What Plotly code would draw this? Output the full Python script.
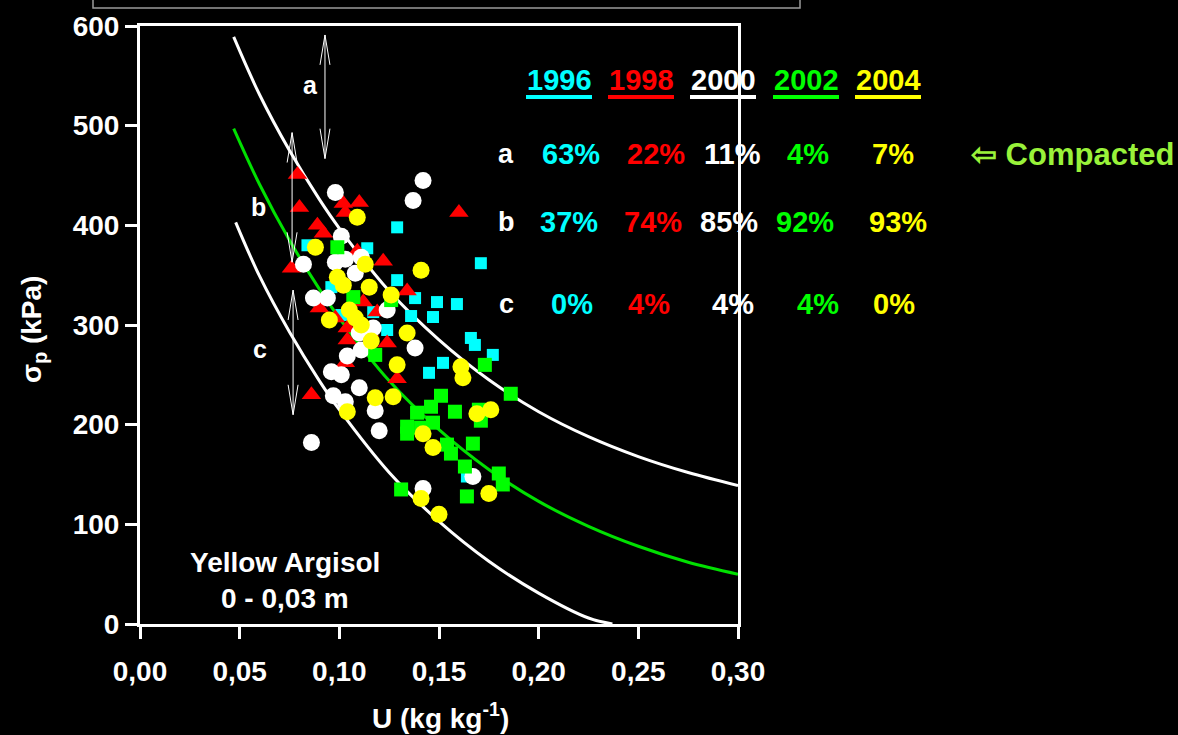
import plotly.graph_objects as go

# ---- observations: water content U (kg/kg) and preconsolidation pressure (kPa)
U_1996 = [0.084, 0.096, 0.114, 0.129, 0.129, 0.138, 0.149, 0.159, 0.136, 0.147,
          0.166, 0.168, 0.177, 0.152, 0.145, 0.171, 0.124, 0.117, 0.101, 0.164]
S_1996 = [380, 338, 377, 398, 345, 327, 323, 321, 309, 308,
          287, 280, 270, 262, 252, 362, 295, 313, 310, 148]

U_1998 = [0.079, 0.080, 0.102, 0.110, 0.103, 0.089, 0.092, 0.076, 0.122, 0.134,
          0.160, 0.109, 0.112, 0.119, 0.090, 0.104, 0.104, 0.124, 0.103, 0.129,
          0.086, 0.098, 0.115]
S_1998 = [451, 418, 422, 423, 413, 400, 392, 357, 364, 334,
          413, 374, 323, 313, 317, 297, 285, 282, 262, 246,
          230, 307, 293]

U_2000 = [0.142, 0.137, 0.098, 0.101, 0.082, 0.098, 0.103, 0.111, 0.108, 0.087,
          0.094, 0.124, 0.117, 0.110, 0.104, 0.111, 0.138, 0.096, 0.101, 0.110,
          0.097, 0.103, 0.118, 0.120, 0.086, 0.142, 0.167]
S_2000 = [445, 425, 433, 389, 361, 363, 366, 368, 352, 327,
          327, 315, 297, 292, 269, 275, 277, 253, 250, 237,
          229, 223, 214, 194, 182, 136, 148]

U_2002 = [0.099, 0.107, 0.126, 0.118, 0.173, 0.186, 0.151, 0.146, 0.158, 0.139,
          0.170, 0.171, 0.147, 0.134, 0.134, 0.154, 0.156, 0.167, 0.163, 0.180,
          0.182, 0.164, 0.131, 0.141]
S_2002 = [378, 328, 325, 270, 260, 231, 229, 218, 213, 212,
          215, 204, 202, 198, 191, 180, 171, 181, 158, 151,
          140, 128, 135, 197]

U_2004 = [0.109, 0.088, 0.113, 0.141, 0.099, 0.102, 0.115, 0.126, 0.105, 0.108,
          0.095, 0.111, 0.134, 0.116, 0.129, 0.161, 0.162, 0.118, 0.127, 0.104,
          0.169, 0.176, 0.142, 0.147, 0.175, 0.150, 0.141]
S_2004 = [408, 378, 361, 355, 348, 340, 338, 330, 315, 307,
          305, 300, 292, 284, 260, 258, 247, 227, 228, 213,
          211, 215, 191, 177, 131, 110, 126]

# ---- compression curve (green) and its upper / lower limits (white)
CURVE_U = [0.047, 0.06, 0.075, 0.09, 0.10, 0.125, 0.15, 0.175, 0.20, 0.225, 0.25, 0.275, 0.30]
CURVE_MID = [497, 441, 385, 336, 307, 244, 195, 155, 123, 98, 78, 62, 50]
CURVE_UP = [589, 531, 475, 426, 397, 334, 285, 245, 213, 188, 168, 152, 139]
LOW_U = [0.048, 0.06, 0.075, 0.09, 0.10, 0.125, 0.15, 0.175, 0.20, 0.225, 0.237]
CURVE_LOW = [403, 349, 293, 244, 215, 152, 103, 63, 31, 6, 0]

# ---- table of class shares per year
YEARS = ["1996", "1998", "2000", "2002", "2004"]
YEAR_COLORS = ["#00FFFF", "#FF0000", "#FFFFFF", "#00FF00", "#FFFF00"]
CLASSES = ["a", "b", "c"]
SHARES = {
    "a": ["63%", "22%", "11%", "4%", "7%"],
    "b": ["37%", "74%", "85%", "92%", "93%"],
    "c": ["0%", "4%", "4%", "4%", "0%"],
}

# ---- class range arrows: (U, lower kPa, upper kPa) and label positions
ARROWS = [(0.0928, 467, 591), (0.0763, 363, 493), (0.0768, 210, 335)]
ARROW_LABELS = [("a", 0.0853, 541), ("b", 0.0592, 418), ("c", 0.0602, 276)]

W, H = 1178, 735
L, R, T, B = 140, 738, 26, 624
FONT = "Liberation Sans, Arial, sans-serif"


def px(x):
    return (x - L) / (R - L)


def py(y):
    return (B - y) / (B - T)


def text_at(x, y, text, size, color, **kw):
    """Centred text placed by page pixel position."""
    d = dict(x=px(x), y=py(y), xref="paper", yref="paper", text=text, showarrow=False,
             xanchor="center", yanchor="middle",
             font=dict(family=FONT, size=size, color=color))
    d.update(kw)
    return d


fig = go.Figure()

for xs, ys, col in [(CURVE_U, CURVE_UP, "white"), (CURVE_U, CURVE_MID, "#00E000"),
                    (LOW_U, CURVE_LOW, "white")]:
    fig.add_trace(go.Scatter(x=xs, y=ys, mode="lines", line=dict(color=col, width=3, shape="spline"),
                             hoverinfo="skip", showlegend=False))

series = [
    (U_1996, S_1996, "#00FFFF", "square", 12),
    (U_1998, S_1998, "#FF0000", "triangle-up", 17),
    (U_2000, S_2000, "#FFFFFF", "circle", 17),
    (U_2002, S_2002, "#00FF00", "square", 14),
    (U_2004, S_2004, "#FFFF00", "circle", 17),
]
for (xs, ys, col, sym, sz), name in zip(series, YEARS):
    fig.add_trace(go.Scatter(x=xs, y=ys, mode="markers", name=name,
                             marker=dict(color=col, symbol=sym, size=sz, line=dict(width=0)),
                             showlegend=False))

shapes = []
# double-headed arrows with open V heads
HU, HS = 0.0025, 30
for u, lo, hi in ARROWS:
    path = (f"M {u},{lo} L {u},{hi} "
            f"M {u - HU},{hi - HS} L {u},{hi} L {u + HU},{hi - HS} "
            f"M {u - HU},{lo + HS} L {u},{lo} L {u + HU},{lo + HS}")
    shapes.append(dict(type="path", path=path, xref="x", yref="y",
                       line=dict(color="white", width=1)))

# frame box partly visible at the top edge
shapes.append(dict(type="rect", xref="paper", yref="paper", x0=px(93), x1=px(800),
                   y0=py(8), y1=py(-20), line=dict(color="#9A9A9A", width=1.5)))

annotations = []
for lab, u, s in ARROW_LABELS:
    annotations.append(dict(x=u, y=s, xref="x", yref="y", text=f"<b>{lab}</b>", showarrow=False,
                            xanchor="center", yanchor="middle",
                            font=dict(family=FONT, size=25, color="white")))

# table: year headers with coloured underlines
HEAD_X = [559, 641, 723, 806, 888]
for yr, col, x in zip(YEARS, YEAR_COLORS, HEAD_X):
    annotations.append(text_at(x, 80, f"<b>{yr}</b>", 29, col))
    shapes.append(dict(type="line", xref="paper", yref="paper", x0=px(x - 33), x1=px(x + 33),
                       y0=py(97), y1=py(97), line=dict(color=col, width=4)))

ROW_Y = {"a": 154, "b": 222, "c": 304}
COL_X = {
    "a": [571, 656, 732, 808, 893],
    "b": [569, 653, 729, 805, 898],
    "c": [572, 649, 733, 818, 894],
}
for cls in CLASSES:
    annotations.append(text_at(506, ROW_Y[cls], f"<b>{cls}</b>", 27, "white"))
    for val, col, x in zip(SHARES[cls], YEAR_COLORS, COL_X[cls]):
        annotations.append(text_at(x, ROW_Y[cls], f"<b>{val}</b>", 29, col))

annotations.append(text_at(1176, 154, "<b>⇦ Compacted</b>", 31, "#99F23A", xanchor="right"))

annotations.append(text_at(285, 562, "<b>Yellow Argisol</b>", 28, "white"))
annotations.append(text_at(285, 598, "<b>0 - 0,03 m</b>", 28, "white"))

# axis titles
annotations.append(text_at(440, 716, "<b>U (kg kg<sup>-1</sup>)</b>", 28, "white"))
annotations.append(text_at(33, 330, "<b>σ<sub>p</sub> (kPa)</b>", 28, "white", textangle=-90))

X_TICKS = [0.0, 0.05, 0.10, 0.15, 0.20, 0.25, 0.30]
X_TICK_TEXT = ["0,00", "0,05", "0,10", "0,15", "0,20", "0,25", "0,30"]
Y_TICKS = [0, 100, 200, 300, 400, 500, 600]

axis_common = dict(showgrid=False, zeroline=False, showline=True, linecolor="white", linewidth=3,
                   mirror=True, ticks="outside", ticklen=12, tickwidth=3, tickcolor="white",
                   tickfont=dict(family=FONT, size=28, color="white"))

fig.update_layout(
    width=W, height=H,
    margin=dict(l=L, r=W - R, t=T, b=H - B),
    paper_bgcolor="black", plot_bgcolor="black",
    xaxis=dict(range=[0, 0.30], tickvals=X_TICKS, ticktext=[f"<b>{t}</b>" for t in X_TICK_TEXT],
               ticklabelstandoff=8, **axis_common),
    yaxis=dict(range=[0, 600], tickvals=Y_TICKS, ticktext=[f"<b>{t}</b>" for t in Y_TICKS],
               **axis_common),
    shapes=shapes,
    annotations=annotations,
    showlegend=False,
)

fig.write_html("out.html")
